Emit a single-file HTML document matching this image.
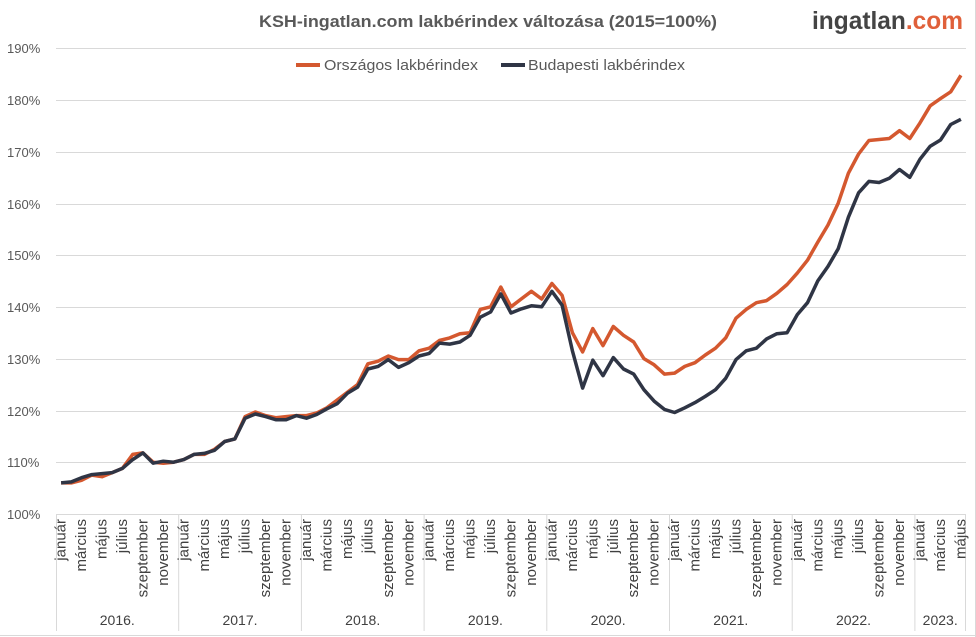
<!DOCTYPE html>
<html><head><meta charset="utf-8"><style>
body{margin:0;background:#fff;}
svg{display:block;font-family:"Liberation Sans",sans-serif;}
.yl{font-size:13px;fill:#595959;}
.ml{font-size:15px;fill:#404040;}
</style></head><body>
<svg id="s" width="976" height="637" viewBox="0 0 976 637">
<rect x="0" y="0" width="976" height="637" fill="#fff"/>
<g stroke="#d9d9d9" stroke-width="1">
<line x1="56" y1="48.5" x2="966" y2="48.5"/>
<line x1="56" y1="100.5" x2="966" y2="100.5"/>
<line x1="56" y1="152.5" x2="966" y2="152.5"/>
<line x1="56" y1="204.5" x2="966" y2="204.5"/>
<line x1="56" y1="255.5" x2="966" y2="255.5"/>
<line x1="56" y1="307.5" x2="966" y2="307.5"/>
<line x1="56" y1="359.5" x2="966" y2="359.5"/>
<line x1="56" y1="411.5" x2="966" y2="411.5"/>
<line x1="56" y1="462.5" x2="966" y2="462.5"/>
<line x1="56" y1="514.5" x2="966" y2="514.5"/>
<line x1="56.5" y1="514" x2="56.5" y2="631"/>
<line x1="178.7" y1="514" x2="178.7" y2="631"/>
<line x1="301.4" y1="514" x2="301.4" y2="631"/>
<line x1="424.1" y1="514" x2="424.1" y2="631"/>
<line x1="546.8" y1="514" x2="546.8" y2="631"/>
<line x1="669.5" y1="514" x2="669.5" y2="631"/>
<line x1="792.2" y1="514" x2="792.2" y2="631"/>
<line x1="914.9" y1="514" x2="914.9" y2="631"/>
<line x1="965.5" y1="514" x2="965.5" y2="631"/>
<line x1="0" y1="635.5" x2="976" y2="635.5"/>
<line x1="975.5" y1="0" x2="975.5" y2="637"/>
</g>
<g class="yl" text-anchor="start">
<text x="7" y="53">190%</text><text x="7" y="105">180%</text><text x="7" y="157">170%</text>
<text x="7" y="209">160%</text><text x="7" y="260">150%</text><text x="7" y="312">140%</text>
<text x="7" y="364">130%</text><text x="7" y="416">120%</text><text x="7" y="467">110%</text>
<text x="7" y="519">100%</text>
</g>
<text x="488" y="27" text-anchor="middle" font-size="17" font-weight="bold" fill="#595959" textLength="458" lengthAdjust="spacingAndGlyphs">KSH-ingatlan.com lakbérindex változása (2015=100%)</text>
<text x="812" y="29" font-size="25" font-weight="bold" fill="#444" textLength="151" lengthAdjust="spacingAndGlyphs">ingatlan<tspan fill="#e0603a">.com</tspan></text>
<line x1="296" y1="65" x2="320" y2="65" stroke="#d4582f" stroke-width="4"/>
<text x="324" y="70" font-size="15" fill="#595959" textLength="154" lengthAdjust="spacingAndGlyphs">Országos lakbérindex</text>
<line x1="501" y1="65" x2="525" y2="65" stroke="#2f3545" stroke-width="4"/>
<text x="528" y="70" font-size="15" fill="#595959" textLength="157" lengthAdjust="spacingAndGlyphs">Budapesti lakbérindex</text>
<polyline id="po" fill="none" stroke="#d4582f" stroke-width="3.5" stroke-linejoin="round"/>
<polyline id="pb" fill="none" stroke="#2f3545" stroke-width="3.5" stroke-linejoin="round"/>
<g class="ml" text-anchor="end" dominant-baseline="central">
<text transform="translate(61.1,519) rotate(-90)">január</text>
<text transform="translate(81.6,519) rotate(-90)">március</text>
<text transform="translate(102,519) rotate(-90)">május</text>
<text transform="translate(122.5,519) rotate(-90)">július</text>
<text transform="translate(142.9,519) rotate(-90)">szeptember</text>
<text transform="translate(163.4,519) rotate(-90)">november</text>
<text transform="translate(183.8,519) rotate(-90)">január</text>
<text transform="translate(204.3,519) rotate(-90)">március</text>
<text transform="translate(224.7,519) rotate(-90)">május</text>
<text transform="translate(245.2,519) rotate(-90)">július</text>
<text transform="translate(265.6,519) rotate(-90)">szeptember</text>
<text transform="translate(286.1,519) rotate(-90)">november</text>
<text transform="translate(306.5,519) rotate(-90)">január</text>
<text transform="translate(327,519) rotate(-90)">március</text>
<text transform="translate(347.4,519) rotate(-90)">május</text>
<text transform="translate(367.9,519) rotate(-90)">július</text>
<text transform="translate(388.3,519) rotate(-90)">szeptember</text>
<text transform="translate(408.8,519) rotate(-90)">november</text>
<text transform="translate(429.2,519) rotate(-90)">január</text>
<text transform="translate(449.7,519) rotate(-90)">március</text>
<text transform="translate(470.1,519) rotate(-90)">május</text>
<text transform="translate(490.6,519) rotate(-90)">július</text>
<text transform="translate(511,519) rotate(-90)">szeptember</text>
<text transform="translate(531.5,519) rotate(-90)">november</text>
<text transform="translate(551.9,519) rotate(-90)">január</text>
<text transform="translate(572.4,519) rotate(-90)">március</text>
<text transform="translate(592.8,519) rotate(-90)">május</text>
<text transform="translate(613.3,519) rotate(-90)">július</text>
<text transform="translate(633.7,519) rotate(-90)">szeptember</text>
<text transform="translate(654.2,519) rotate(-90)">november</text>
<text transform="translate(674.6,519) rotate(-90)">január</text>
<text transform="translate(695.1,519) rotate(-90)">március</text>
<text transform="translate(715.5,519) rotate(-90)">május</text>
<text transform="translate(736,519) rotate(-90)">július</text>
<text transform="translate(756.4,519) rotate(-90)">szeptember</text>
<text transform="translate(776.9,519) rotate(-90)">november</text>
<text transform="translate(797.3,519) rotate(-90)">január</text>
<text transform="translate(817.8,519) rotate(-90)">március</text>
<text transform="translate(838.2,519) rotate(-90)">május</text>
<text transform="translate(858.7,519) rotate(-90)">július</text>
<text transform="translate(879.1,519) rotate(-90)">szeptember</text>
<text transform="translate(899.6,519) rotate(-90)">november</text>
<text transform="translate(920,519) rotate(-90)">január</text>
<text transform="translate(940.5,519) rotate(-90)">március</text>
<text transform="translate(960.9,519) rotate(-90)">május</text>
</g>
<g fill="#404040" text-anchor="middle" font-size="14">
<text x="117.3" y="625">2016.</text><text x="240" y="625">2017.</text><text x="362.7" y="625">2018.</text>
<text x="485.4" y="625">2019.</text><text x="608.1" y="625">2020.</text><text x="730.8" y="625">2021.</text>
<text x="853.5" y="625">2022.</text><text x="940.2" y="625">2023.</text>
</g>
</svg>
<script>
var o=[106,106,106.5,107.5,107.2,108,108.8,111.5,111.8,110,109.8,110,
110.5,111.5,111.5,112.5,114,114.5,118.8,119.7,119,118.6,118.8,119,
119,119.5,120.5,122,123.5,125,129,129.5,130.5,129.8,129.8,131.5,
132,133.5,134,134.8,135,139.5,140,143.8,140,141.5,143,141.5,
144.5,142.2,135,131.3,135.8,132.5,136.2,134.5,133.2,130,128.8,127,
127.2,128.5,129.2,130.7,132,134,137.8,139.5,140.8,141.2,142.6,144.3,
146.5,149,152.5,155.8,160,165.8,169.5,172.1,172.3,172.5,174,172.5,
175.5,178.8,180.2,181.5,184.7];
var b=[106,106.2,107,107.6,107.8,108,108.8,110.5,111.8,109.8,110.2,110,
110.5,111.5,111.7,112.3,114,114.5,118.5,119.3,118.8,118.2,118.2,119,
118.5,119.2,120.3,121.3,123.3,124.5,128,128.5,129.8,128.3,129.2,130.5,
131,133,132.8,133.2,134.5,138,139,142.5,138.8,139.6,140.2,140,
143,140.3,131.5,124.3,129.7,126.7,130.2,128,127,124,121.8,120.2,
119.6,120.5,121.5,122.7,124,126.2,129.8,131.5,132,133.8,134.8,135,
138.5,140.8,145,147.8,151.2,157.3,162,164.2,164,164.8,166.5,165,
168.5,171,172.2,175.2,176.2];
function pts(a){return a.map(function(v,i){return (61.1+10.225*i).toFixed(1)+","+(514-(v-100)*5.18).toFixed(1)}).join(" ")}
document.getElementById("po").setAttribute("points",pts(o));
document.getElementById("pb").setAttribute("points",pts(b));
</script>
</body></html>
